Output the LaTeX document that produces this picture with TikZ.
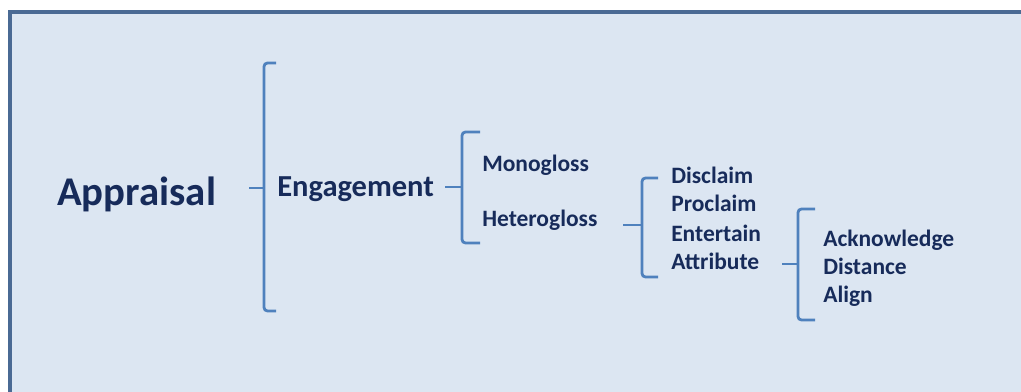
\documentclass[tikz,border=0pt]{standalone}
\usepackage{fontspec}
\setmainfont{Carlito}
\usetikzlibrary{positioning}

\definecolor{framefill}{HTML}{DCE6F2}
\definecolor{frameline}{HTML}{4A6A94}
\definecolor{bracecol}{HTML}{4F81BD}
\definecolor{textcol}{HTML}{172B5A}

\tikzset{
  term/.style={anchor=base west, inner sep=0pt, text=textcol,
    font=\bfseries\fontsize{16.7}{18}\selectfont},
  brace/.style={draw=bracecol, line width=2pt, rounded corners=2.5pt},
  tick/.style={draw=bracecol, line width=2pt}
}

\begin{document}
\begin{tikzpicture}[x=0.025cm, y=-0.025cm]
    \useasboundingbox (0,0) rectangle (1021,392);

    %Frame
    \draw[frameline, line width=2.2pt, fill=framefill] (10,12) rectangle (1040,410);

    %Root
    \node[term, font=\bfseries\fontsize{29}{31}\selectfont] (appraisal) at (57,206) {Appraisal};

    %First bracket
    \draw[brace] (276,63) -- (264,63) -- (264,311) -- (276,311);
    \draw[tick] (249,188) -- (264,188);
    \node[term, font=\bfseries\fontsize{21.7}{23}\selectfont] (engagement) at (277,197) {Engagement};

    %Second bracket
    \draw[brace] (480,132) -- (462,132) -- (462,243) -- (480,243);
    \draw[tick] (445,187) -- (462,187);
    \node[term] (monogloss) at (482,172) {Monogloss};
    \node[term] (heterogloss) at (482,227) {Heterogloss};

    %Third bracket
    \draw[brace] (658,178) -- (642,178) -- (642,277) -- (658,277);
    \draw[tick] (623,225) -- (642,225);
    \node[term] (disclaim) at (671,184) {Disclaim};
    \node[term] (proclaim) at (671,212) {Proclaim};
    \node[term] (entertain) at (671,242) {Entertain};
    \node[term] (attribute) at (671,270) {Attribute};

    %Fourth bracket
    \draw[brace] (815,209) -- (798,209) -- (798,320) -- (815,320);
    \draw[tick] (782,264) -- (798,264);
    \node[term] (acknowledge) at (823,247) {Acknowledge};
    \node[term] (distance) at (823,275) {Distance};
    \node[term] (align) at (823,303) {Align};
  \end{tikzpicture}
\end{document}
